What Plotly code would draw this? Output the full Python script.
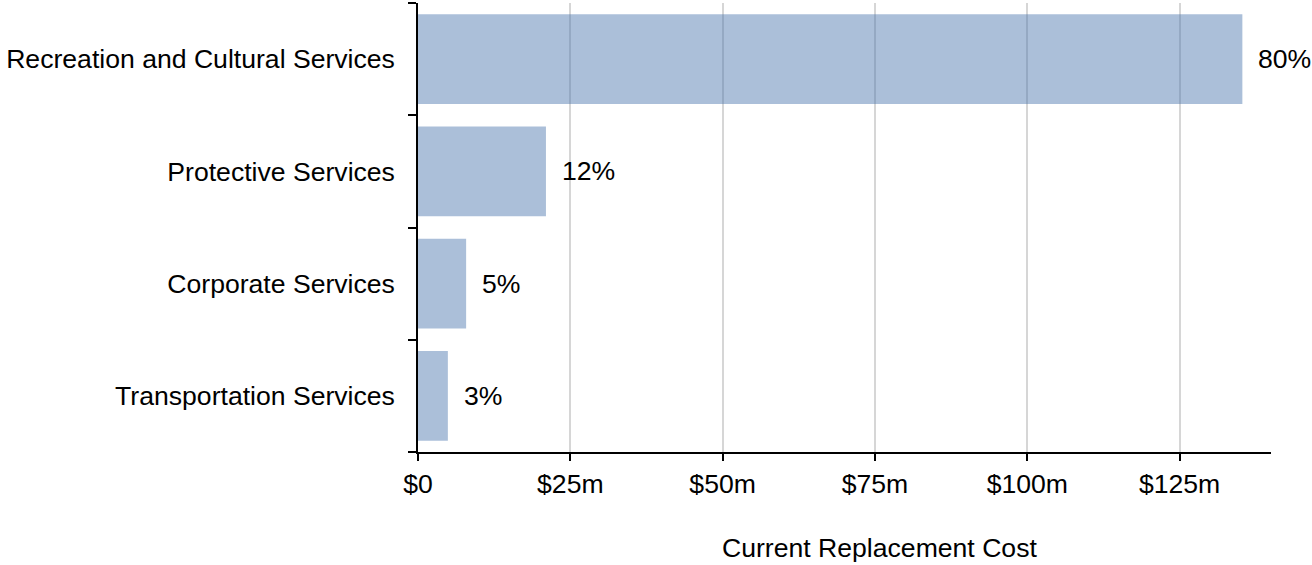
import plotly.graph_objects as go

categories = ["Recreation and Cultural Services", "Protective Services",
              "Corporate Services", "Transportation Services"]
values_m = [135.3, 21.0, 7.9, 4.9]
pct_labels = ["80%", "12%", "5%", "3%"]
tick_vals = [0, 25, 50, 75, 100, 125]
tick_text = ["$0", "$25m", "$50m", "$75m", "$100m", "$125m"]

font_family = "Arial, Liberation Sans, sans-serif"
fs = 26.6

fig = go.Figure()
fig.add_trace(go.Bar(
    y=categories, x=values_m, orientation="h",
    marker=dict(color="rgba(72,116,172,0.46)", line=dict(width=0)),
    hoverinfo="x+y",
))

for c, v, t in zip(categories, values_m, pct_labels):
    fig.add_annotation(x=v, y=c, text=t, showarrow=False, xanchor="left",
                       xshift=14, yanchor="middle",
                       font=dict(size=fs, color="black", family=font_family))

fig.add_annotation(x=0.5416, y=-0.214, xref="paper", yref="paper",
                   text="Current Replacement Cost", showarrow=False,
                   xanchor="center", yanchor="middle",
                   font=dict(size=fs, color="black", family=font_family))

fig.update_layout(
    width=1312, height=565,
    margin=dict(l=418, r=41, t=3, b=113),
    plot_bgcolor="white", paper_bgcolor="white",
    bargap=0.2, showlegend=False,
    font=dict(family=font_family, size=fs, color="black"),
    xaxis=dict(range=[0, 140], tickvals=tick_vals, ticktext=tick_text,
               showgrid=True, gridcolor="#d6d6d6", gridwidth=1.5,
               zeroline=False, showline=True, linecolor="black", linewidth=1.5,
               ticks="outside", ticklen=7, tickcolor="black", tickwidth=1.5,
               tickfont=dict(size=fs, color="black")),
    yaxis=dict(categoryorder="array", categoryarray=categories[::-1],
               range=[-0.5, 3.5], showgrid=False, zeroline=False,
               showline=True, linecolor="black", linewidth=1.5,
               ticks="outside", tickson="boundaries", ticklen=8,
               tickcolor="black", tickwidth=1.5,
               ticklabelstandoff=16,
               tickfont=dict(size=fs, color="black")),
)

fig.write_html("out.html", config={"displayModeBar": False},
               post_script="document.body.style.margin='0';")
